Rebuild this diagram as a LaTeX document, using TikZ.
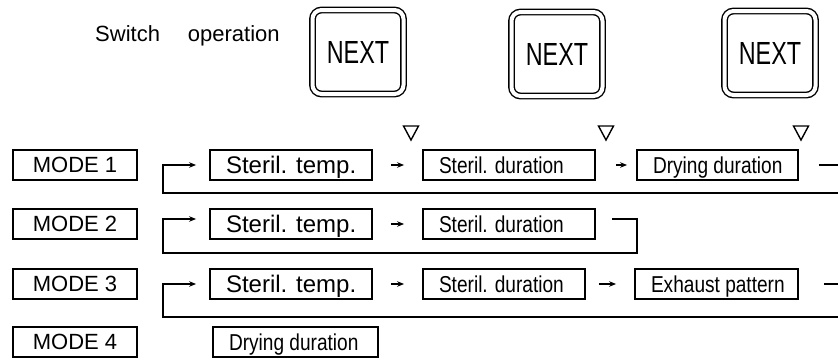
\documentclass[tikz,border=0pt]{standalone}
\usepackage{fontspec}
\setmainfont{Liberation Sans}
\newfontfamily\narrowf[FakeStretch=0.83]{Liberation Sans}
\newfontfamily\nextf[FakeStretch=0.73]{Liberation Sans}
\usetikzlibrary{arrows.meta}
\newcommand\lbx[2]{\makebox[#1][l]{#2}}
\begin{document}
\begin{tikzpicture}[x=1pt,y=-1pt,
  box/.style={draw, line width=1.8pt, minimum height=30pt, inner xsep=16pt, inner ysep=0pt},
  modebox/.style={box, inner xsep=0pt, minimum width=124pt, font=\fontsize{22}{22}\selectfont,
    text height=19.8pt, text depth=4.4pt},
  tempbox/.style={box, font=\fontsize{24}{24}\selectfont, text height=21.6pt, text depth=4.8pt},
  durbox/.style={box, font=\narrowf\fontsize{23}{23}\selectfont, text height=20.7pt, text depth=4.6pt},
  nextbtn/.style={draw, line width=1.4pt, double, double distance=4pt, rounded corners=9pt,
    minimum width=91pt, minimum height=84pt, inner sep=0pt, font=\nextf\fontsize{32}{32}\selectfont},
  arr/.style={line width=1.6pt, -{Stealth[length=7pt,width=5.5pt]}},
  ln/.style={line width=1.7pt},
  trimark/.style={line width=1.4pt, line join=miter}
]
\useasboundingbox (0,0) rectangle (838,360);

% header
\node[font=\fontsize{22}{22}\selectfont, anchor=base west, inner sep=0pt] (sw) at (95,41) {Switch\hspace{28pt}operation};
\node[nextbtn] (n1) at (358,52) {NEXT\hspace{16pt}};
\node[nextbtn] (n2) at (557,54) {NEXT\hspace{16pt}};
\node[nextbtn] (n3) at (770,53) {NEXT\hspace{16pt}};

% markers
\draw[trimark] (403.5,126) -- (418.5,126) -- (411,140) -- cycle;
\draw[trimark] (598.5,126) -- (613.5,126) -- (606,140) -- cycle;
\draw[trimark] (793.5,126) -- (808.5,126) -- (801,140) -- cycle;

% row 1
\node[modebox] (m1) at (75,165) {MODE 1};
\node[tempbox] (t1) at (291,165) {\lbx{130pt}{Steril. temp.}};
\node[durbox] (d1) at (509,165) {\lbx{140pt}{Steril. duration}};
\node[durbox] (y1) at (717.5,165) {\lbx{129pt}{Drying duration}};
\draw[arr, shorten <=18pt, shorten >=18pt] (t1) -- (d1);
\draw[arr, shorten <=20pt, shorten >=9pt] (d1) -- (y1);
\coordinate (o1) at (838,165);
\draw[ln, shorten <=20pt] (y1.east) -- (o1);
\coordinate (b1) at (838,193);
\coordinate (L1) at (163,193);
\draw[arr, shorten >=13pt] (b1) -- (L1) |- (t1.west);

% row 2
\node[modebox] (m2) at (75,224) {MODE 2};
\node[tempbox] (t2) at (291,224) {\lbx{130pt}{Steril. temp.}};
\node[durbox] (d2) at (509,224) {\lbx{140pt}{Steril. duration}};
\draw[arr, shorten <=18pt, shorten >=18pt] (t2) -- (d2);
\coordinate (a2) at (612,219);
\coordinate (c2) at (637,253);
\coordinate (L2) at (163,253);
\draw[arr, shorten >=13pt] (a2) -| (c2) -- (L2) |- (t2.west |- a2);

% row 3
\node[modebox] (m3) at (75,284) {MODE 3};
\node[tempbox] (t3) at (291,284) {\lbx{130pt}{Steril. temp.}};
\node[durbox] (d3) at (504,284) {\lbx{130pt}{Steril. duration}};
\node[durbox] (e3) at (716.5,284) {\lbx{131pt}{Exhaust pattern}};
\draw[arr, shorten <=18pt, shorten >=18pt] (t3) -- (d3);
\draw[arr, shorten <=13pt, shorten >=18pt] (d3) -- (e3);
\coordinate (o3) at (838,284);
\draw[ln, shorten <=25pt] (e3.east) -- (o3);
\coordinate (b3) at (838,317);
\coordinate (L3) at (163,317);
\draw[arr, shorten >=13pt] (b3) -- (L3) |- (t3.west);

% row 4
\node[modebox] (m4) at (75,342) {MODE 4};
\node[durbox] (y4) at (295.5,342) {\lbx{133pt}{Drying duration}};
\end{tikzpicture}
\end{document}
